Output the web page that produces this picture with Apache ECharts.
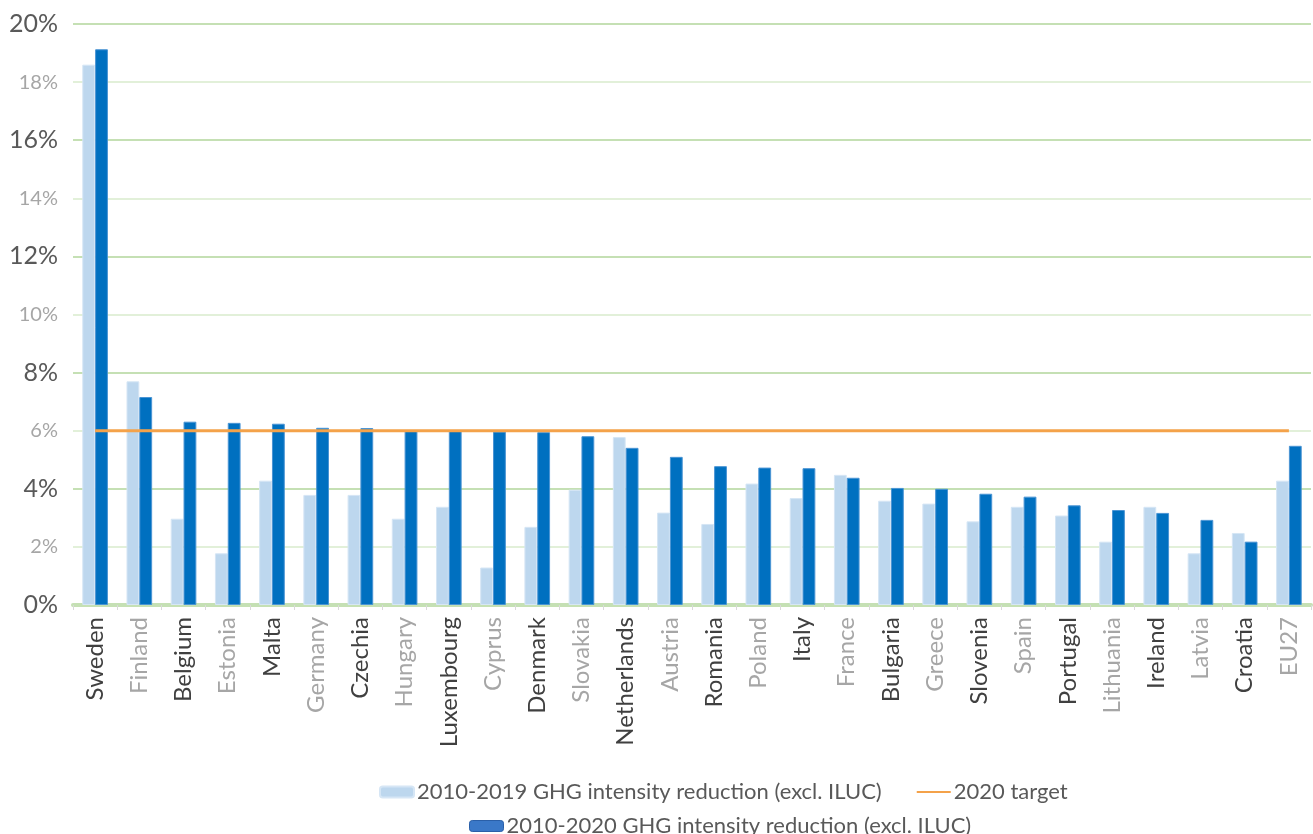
<!DOCTYPE html>
<html>
<head>
<meta charset="utf-8">
<script src="https://cdn.jsdelivr.net/npm/echarts@6/dist/echarts.min.js"></script>
<style>
  html, body { margin: 0; padding: 0; background: #fff; }
  #chart { width: 1313px; height: 834px; }
</style>
</head>
<body>
<div id="chart"></div>
<script>
// countries, sorted by 2010-2020 reduction
var countries = ['Sweden', 'Finland', 'Belgium', 'Estonia', 'Malta', 'Germany', 'Czechia',
    'Hungary', 'Luxembourg', 'Cyprus', 'Denmark', 'Slovakia', 'Netherlands', 'Austria',
    'Romania', 'Poland', 'Italy', 'France', 'Bulgaria', 'Greece', 'Slovenia', 'Spain',
    'Portugal', 'Lithuania', 'Ireland', 'Latvia', 'Croatia', 'EU27'];

// 2010-2019 GHG intensity reduction (%)
var reduction2019 = [18.6, 7.7, 2.97, 1.78, 4.28, 3.79, 3.79, 2.97, 3.38, 1.29, 2.69, 3.97,
    5.78, 3.18, 2.79, 4.18, 3.68, 4.48, 3.59, 3.49, 2.88, 3.38, 3.08, 2.18, 3.38, 1.78, 2.48, 4.28];

// 2010-2020 GHG intensity reduction (%)
var reduction2020 = [19.13, 7.16, 6.31, 6.27, 6.24, 6.1, 6.09, 6.02, 6.0, 5.97, 5.95, 5.81,
    5.41, 5.1, 4.78, 4.73, 4.71, 4.38, 4.03, 4.0, 3.83, 3.73, 3.43, 3.27, 3.17, 2.93, 2.18, 5.48];

var targetValue = 6;
var target = countries.map(function () { return targetValue; });

var yTicks = { min: 0, max: 20, step: 2 };

var name19 = '2010-2019 GHG intensity reduction (excl. ILUC)';
var name20 = '2010-2020 GHG intensity reduction (excl. ILUC)';
var nameTarget = '2020 target';

var font = 'Lato, "Noto Sans", sans-serif';

var myChart = echarts.init(document.getElementById('chart'));

var option = {
    animation: false,
    textStyle: { fontFamily: font },
    grid: { left: 73, right: 2, top: 24, bottom: 229 },
    legend: [{
        data: [name19, { name: nameTarget, itemStyle: { opacity: 0 } }],
        left: 374,
        top: 776,
        itemWidth: 34,
        itemHeight: 11,
        itemGap: 34,
        textStyle: { fontSize: 22, color: '#595959', fontFamily: font, padding: [0, 0, 0, -2] }
    }, {
        data: [{ name: name20, itemStyle: { color: '#3a78c8', borderColor: '#2a5fa8', borderWidth: 1 } }],
        left: 464,
        top: 810,
        itemWidth: 34,
        itemHeight: 11,
        textStyle: { fontSize: 22, color: '#595959', fontFamily: font, padding: [0, 0, 0, -2] }
    }],
    xAxis: {
        type: 'category',
        data: countries,
        axisLine: { lineStyle: { color: '#c5e0b4', width: 4 } },
        axisTick: { show: true, length: 5, lineStyle: { color: '#d9d9d9', width: 1 } },
        axisLabel: {
            rotate: 90,
            interval: 0,
            margin: 12,
            formatter: function (value, index) {
                return index % 2 === 0 ? '{d|' + value + '}' : '{l|' + value + '}';
            },
            rich: {
                d: { fontSize: 24, color: '#404040', fontFamily: font },
                l: { fontSize: 24, color: '#a6a6a6', fontFamily: font }
            }
        }
    },
    yAxis: {
        type: 'value',
        min: yTicks.min,
        max: yTicks.max,
        interval: yTicks.step,
        axisLine: { show: false },
        axisTick: { show: false },
        axisLabel: {
            margin: 15,
            formatter: function (value) {
                return (value % 4 === 0 ? '{d|' : '{l|') + value + '%}';
            },
            rich: {
                d: { fontSize: 25, color: '#595959', fontFamily: font },
                l: { fontSize: 20, color: '#a6a6a6', fontFamily: font }
            }
        },
        splitLine: { lineStyle: { color: ['#c5e0b4', '#e2f0d9'], width: 2 } }
    },
    series: [{
        name: name19,
        type: 'bar',
        data: reduction2019,
        barGap: '0%',
        barCategoryGap: '42%',
        itemStyle: { color: '#bdd7ee', borderColor: '#d6e6f5', borderWidth: 1 }
    }, {
        name: name20,
        type: 'bar',
        data: reduction2020,
        barGap: '0%',
        barCategoryGap: '42%',
        itemStyle: { color: '#0070c0', borderColor: '#4a94d4', borderWidth: 1 }
    }, {
        name: nameTarget,
        type: 'line',
        data: target,
        symbol: 'none',
        z: 5,
        lineStyle: { color: '#f4a24a', width: 3 },
        itemStyle: { color: '#f4a24a' }
    }]
};

myChart.setOption(option);
</script>
</body>
</html>
